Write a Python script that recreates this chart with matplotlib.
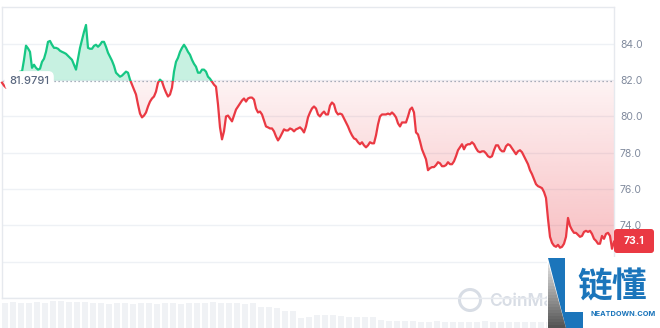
import numpy as np
import matplotlib.pyplot as plt
from matplotlib.patches import Rectangle, Polygon, Circle, FancyBboxPatch
from matplotlib.path import Path
from matplotlib.transforms import Affine2D, blended_transform_factory
from matplotlib.colors import to_rgb

# price, one sample every ~2px of the 7-day window
price = [81.86, 81.70, 81.59, 81.81, 82.03, 82.14, 82.25, 82.14, 82.36, 82.47,
         82.47, 83.12, 83.90, 83.75, 83.56, 82.68, 82.85, 82.68, 82.58, 82.63,
         83.01, 83.18, 83.56, 84.11, 84.16, 83.95, 83.78, 83.78, 83.73, 83.62,
         83.56, 83.51, 83.45, 83.34, 83.23, 83.12, 82.85, 82.58, 83.18, 83.78,
         84.22, 84.66, 85.04, 83.78, 83.73, 83.73, 83.89, 83.95, 83.84, 83.95,
         84.11, 84.11, 83.84, 83.51, 83.29, 83.07, 82.79, 82.41, 82.30, 82.19,
         82.25, 82.36, 82.47, 82.41, 82.03, 81.75, 81.48, 81.21, 80.66, 80.16,
         79.95, 80.05, 80.22, 80.55, 80.82, 80.99, 81.10, 81.37, 81.86, 82.03,
         81.92, 81.59, 81.32, 81.10, 81.21, 81.59, 82.47, 83.01, 83.23, 83.56,
         83.78, 83.95, 83.78, 83.56, 83.40, 83.12, 82.90, 82.74, 82.41, 82.41,
         82.58, 82.58, 82.47, 82.19, 82.08, 81.92, 81.75, 81.64, 80.66, 79.40,
         78.74, 79.18, 80.00, 80.05, 79.89, 79.73, 80.05, 80.38, 80.55, 80.71,
         80.88, 80.99, 80.82, 80.99, 81.04, 81.04, 80.93, 80.44, 80.22, 80.27,
         80.11, 79.78, 79.45, 79.40, 79.34, 79.34, 79.18, 78.90, 78.68, 78.85,
         79.07, 79.29, 79.23, 79.23, 79.34, 79.29, 79.18, 79.29, 79.34, 79.40,
         79.29, 79.12, 79.45, 79.95, 80.22, 80.44, 80.55, 80.44, 80.11, 80.00,
         80.16, 80.27, 80.11, 80.11, 80.60, 80.77, 80.66, 80.27, 80.11, 80.16,
         80.11, 79.89, 79.67, 79.45, 79.18, 78.96, 78.79, 78.74, 78.58, 78.47,
         78.58, 78.41, 78.30, 78.41, 78.58, 78.52, 78.52, 78.96, 79.56, 80.00,
         80.11, 80.11, 80.11, 80.16, 80.11, 80.22, 80.11, 79.95, 79.62, 79.45,
         79.67, 79.67, 79.67, 80.00, 80.38, 80.49, 80.22, 79.12, 79.01, 78.63,
         78.19, 77.92, 77.64, 77.04, 77.15, 77.21, 77.21, 77.32, 77.48, 77.42,
         77.26, 77.26, 77.32, 77.48, 77.37, 77.37, 77.53, 77.81, 78.14, 78.30,
         78.47, 78.19, 78.41, 78.47, 78.47, 78.58, 78.47, 78.25, 78.08, 78.03,
         78.08, 78.08, 77.97, 77.81, 77.75, 77.81, 78.14, 78.41, 78.41, 78.19,
         78.08, 78.08, 78.36, 78.47, 78.41, 78.25, 78.08, 77.92, 78.08, 78.14,
         78.03, 77.81, 77.59, 77.37, 77.04, 76.82, 76.55, 76.27, 76.16, 76.11,
         76.05, 75.84, 75.51, 74.36, 73.37, 73.04, 72.88, 72.82, 72.93, 72.77,
         72.82, 72.99, 73.37, 74.41, 73.97, 73.75, 73.59, 73.59, 73.48, 73.37,
         73.42, 73.64, 73.70, 73.64, 73.70, 73.53, 73.26, 73.15, 72.99, 72.99,
         73.42, 73.26, 73.53, 73.59, 73.42, 72.71, 73.10]

# volume, one bar every 4 price samples
volume = [25, 26, 25, 25, 26, 25, 27, 27, 26, 26, 26, 25,
          25, 24, 25, 25, 24, 25, 25, 24, 25, 25, 24, 25, 25,
          25, 26, 25, 25, 25, 24, 25, 21, 21, 20, 17, 17, 10, 11,
          13, 13, 13, 12, 11, 11, 11, 11, 8, 7, 7, 7, 7,
          6, 6, 7, 6, 6, 6, 6, 6, 7, 6, 6, 6, 6, 6, 6, 6, 6, 6, 6, 6, 6, 6, 6, 6, 6]

base_price = 81.9791
last_label = '73.1'
yticks = [70, 72, 74, 76, 78, 80, 82, 84]
shown_ticks = [74, 76, 78, 80, 82, 84]   # 70 and 72 sit under the corner logo

GREEN = '#16c784'
RED = '#ea3943'
GRID = '#eef1f5'
TICK = '#808a9d'
BLUE = '#1b75bb'

plt.rcParams['font.family'] = ['Inter', 'DejaVu Sans']

W, H = 660, 328
fig = plt.figure(figsize=(W / 100, H / 100), dpi=100)
# pixel coordinates, y measured from the top
px = Affine2D().scale(1 / W, -1 / H).translate(0, 1) + fig.transFigure


def box(x0, y0, x1, y1):
    return [x0 / W, 1 - y1 / H, (x1 - x0) / W, (y1 - y0) / H]


ax = fig.add_axes(box(2, 7, 614, 298))
vax = fig.add_axes(box(2, 298, 614, 328), sharex=ax)
ax.set_facecolor('none')
vax.set_facecolor('none')

x = np.arange(len(price))
p = np.array(price)
ax.set_xlim(0, len(price) - 1)
ax.set_ylim(70, 86.03)

# fills
ax.fill_between(x, p, base_price, where=p >= base_price, interpolate=True,
                color=GREEN, alpha=0.24, lw=0, zorder=1)
red_poly = ax.fill_between(x, p, base_price, where=p <= base_price, interpolate=True,
                           color='none', lw=0)
grad = np.zeros((256, 1, 4))
grad[:, 0, :3] = to_rgb(RED)
grad[:, 0, 3] = np.linspace(0.32, 0.06, 256)
im = ax.imshow(grad, extent=[0, len(price) - 1, min(price), base_price],
               origin='lower', aspect='auto', zorder=1, interpolation='bilinear')
clip = Path.make_compound_path(*red_poly.get_paths())
im.set_clip_path(clip, ax.transData)

ax.axhline(base_price, color='#8f98a8', lw=0.9, ls=(0, (1, 2.2)), zorder=2)

# line, green above the open price and red below
up, = ax.plot(x, p, color=GREEN, lw=1.6, zorder=3, solid_joinstyle='round')
up.set_clip_path(Rectangle((-5, base_price), 400, 30, transform=ax.transData))
dn, = ax.plot(x, p, color=RED, lw=1.6, zorder=3, solid_joinstyle='round')
dn.set_clip_path(Rectangle((-5, 60), 400, base_price - 60, transform=ax.transData))

# axes styling
ax.set_yticks(yticks)
ax.set_yticklabels([f'{t:.1f}' if t in shown_ticks else '' for t in yticks])
ax.yaxis.tick_right()
ax.tick_params(axis='y', length=0, pad=4.3, labelsize=7.5, labelcolor=TICK)
ax.tick_params(axis='x', length=0, labelbottom=False)
ax.grid(axis='y', color=GRID, lw=1)
ax.set_axisbelow(True)
for s in ax.spines.values():
    s.set_color('#e6e9ee')
    s.set_linewidth(1)

vax.bar(np.arange(len(volume)) * 4 + 1.5, volume, width=2.6, color='#f0f2f5', lw=0)
vax.set_ylim(0, 30)
vax.axis('off')

# open price label
tr = blended_transform_factory(ax.transAxes, ax.transData)
ax.text(0.012, base_price, '81.9791', transform=tr, ha='left', va='center',
        fontsize=8, color='#58667e', fontweight='medium', zorder=5,
        bbox=dict(boxstyle='round,pad=0.4,rounding_size=0.5', fc='white', ec='none'))

# last price tag
fig.patches.append(FancyBboxPatch((614, 229), 40, 24, boxstyle='round,pad=0,rounding_size=3',
                                  fc=RED, ec='none', transform=px, zorder=6))
fig.text(634 / W, 1 - 241.5 / H, last_label, ha='center', va='center', color='white',
         fontsize=7.5, fontweight='bold', zorder=7)

# CoinMarketCap watermark, cut off by the corner logo
fig.patches.append(Circle((470, 300), 10.5, fc='none', ec='#d8dde5', lw=2.2,
                          transform=px, zorder=-1))
cmc = fig.text(489 / W, 1 - 301 / H, 'CoinMarketCap', ha='left', va='center', color='#d8dde5',
               fontsize=12.5, fontweight='semibold', zorder=-1)
cmc.set_clip_path(Rectangle((480, 280), 67, 40, transform=px))

# site logo in the corner
fig.patches.append(Rectangle((547, 257), 113, 71, fc='white', ec='none', transform=px, zorder=10))
fig.patches.append(Polygon([(548, 258), (565, 258), (565, 312), (583, 312), (583, 328), (566, 328)],
                           closed=True, fc=BLUE, ec='none', transform=px, zorder=11))
for k in range(22):
    y0 = 262 + k * 3
    y1 = y0 + 3
    xr0 = 548 + (y0 - 262) * 18 / 66
    xr1 = 548 + (y1 - 262) * 18 / 66
    g = 0.88 - 0.55 * k / 21
    fig.patches.append(Polygon([(548, y0), (xr0, y0), (xr1, y1), (548, y1)], closed=True,
                               fc=(g, g, g), ec='none', transform=px, zorder=11))
fig.text(612 / W, 1 - 297 / H, '链懂', ha='center', va='baseline', color=BLUE,
         fontsize=25, family=['Noto Sans CJK SC', 'DejaVu Sans'], fontweight='bold', zorder=12)
fig.text(623 / W, 1 - 314 / H, 'NEATDOWN.COM', ha='center', va='center', color=BLUE,
         fontsize=5.3, fontweight='bold', zorder=12)

fig.savefig('out.png', dpi=100)
